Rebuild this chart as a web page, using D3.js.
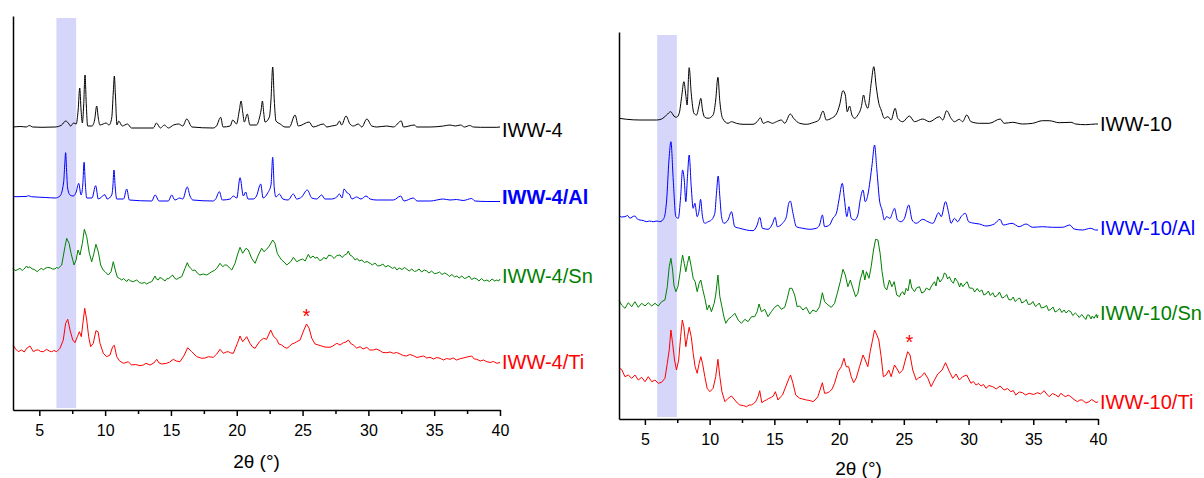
<!DOCTYPE html>
<html><head><meta charset="utf-8">
<script src="https://cdn.jsdelivr.net/npm/d3@7"></script>
<style>
body{margin:0;background:#fff}
svg{display:block}
text{font-family:"Liberation Sans",Arial,Helvetica,sans-serif}
</style>
</head><body>
<svg id="chart" width="1204" height="478"></svg>
<script>
// ---------- DATA ----------
const majorTicks = [5,10,15,20,25,30,35,40];
const minorTicks = [7.5,12.5,17.5,22.5,27.5,32.5,37.5];
const xDomain = [3,40];
const axisTitle = "2θ (°)";

const leftLabels  = ["IWW-4","IWW-4/Al","IWW-4/Sn","IWW-4/Ti"];
const rightLabels = ["IWW-10","IWW-10/Al","IWW-10/Sn","IWW-10/Ti"];
const leftLabelLevels  = [273,206,127,41];
const rightLabelLevels = [288,184,99,10];
const leftBand  = [6.3,7.8];
const rightBand = [5.95,7.47];
const leftStar  = [25.3,98];
const rightStar = [25.44,81];

const iww4 = [[3.0,283],[3.6,283.5],[4.0,283],[4.24,284.5],[4.5,283],[5.2,282.7],[6.2,283],[6.7,285],[7.0,289],[7.2,287],[7.38,284],[7.6,287],[7.8,286],[7.95,300],[8.07,322],[8.17,300],[8.27,287],[8.37,305],[8.47,335],[8.57,305],[8.67,284],[9.0,284],[9.2,290],[9.36,304],[9.48,292],[9.6,285],[9.85,286],[10.07,287],[10.3,285],[10.5,292],[10.62,318],[10.7,334],[10.78,315],[10.9,285],[11.03,289],[11.3,284],[11.7,286],[12.0,282],[13.66,282],[13.9,287],[14.2,282],[14.5,285],[14.8,282],[15.2,285],[15.6,286],[15.9,284],[16.2,291],[16.6,283],[18.2,282],[18.46,284],[18.78,292.7],[18.96,283],[19.5,284],[19.7,290],[19.98,286],[20.2,300],[20.33,309],[20.45,298],[20.58,288],[20.8,296],[21.0,285],[21.5,285],[21.72,292],[21.85,300],[21.95,309],[22.05,297],[22.15,288],[22.48,293],[22.6,310],[22.73,343],[22.85,310],[22.98,289],[23.3,286],[23.67,283],[24.0,283],[24.43,295],[24.68,284],[25.5,288],[25.8,283],[26.58,286],[26.84,283],[27.2,284],[27.6,285],[27.8,289],[27.97,285],[28.3,294],[28.6,286],[28.86,284],[29.24,286],[29.5,283],[29.88,291],[30.26,284],[30.64,283],[31.4,284],[31.9,283],[32.5,289],[32.66,283],[33.5,285],[33.68,283],[34.7,283],[35.7,284],[36.2,285],[36.6,284],[37.0,285],[37.3,283],[37.7,284.5],[37.98,283],[38.5,282.7],[39.76,282.7],[40,283]];

const iww4Al = [[3.0,213.3],[4.0,213.5],[4.16,214.3],[4.4,213.3],[5.5,212.5],[6.2,212],[6.57,214],[6.85,228],[6.93,245],[7.0,257.3],[7.07,240],[7.15,222],[7.33,215],[7.58,214],[7.8,218],[7.99,226.7],[8.17,215],[8.3,225],[8.4,247.7],[8.5,225],[8.6,212],[9.0,212],[9.28,224.3],[9.48,211],[9.99,215.3],[10.15,211],[10.5,215],[10.58,222],[10.67,240],[10.77,222],[10.88,211],[11.4,211],[11.64,221],[11.84,210],[13.54,209],[13.8,215],[14.1,209],[14.8,209],[15.06,215],[15.3,210],[15.67,212],[15.9,211],[16.24,223],[16.45,214],[16.66,210],[18.2,209],[18.4,211],[18.68,218.3],[18.9,210],[19.5,211],[19.74,214],[20.0,212],[20.25,232.3],[20.5,214],[20.68,218],[20.85,211],[21.25,211],[21.5,214],[21.82,226],[22.0,212],[22.35,217],[22.6,225],[22.73,252.7],[22.85,222],[22.98,213],[23.24,216],[23.5,211],[23.9,210],[24.3,216],[24.55,211],[24.93,213],[25.36,220],[25.7,212],[26.07,211],[26.45,215],[26.7,211],[27.2,211],[27.6,213],[27.8,216],[28.0,212],[28.15,221],[28.4,217],[28.55,216],[28.75,211],[29.1,213],[29.44,211],[29.82,214],[30.13,211],[30.6,210],[31.9,210],[32.46,214],[32.7,209],[33.42,212],[33.7,209],[34.7,209],[35.7,211],[36.2,210],[36.7,210.5],[37.2,209.5],[37.85,211.5],[38.1,209],[39.0,208.5],[40,208.5]];

const iww4Sn = [[3.0,141.7],[3.15,139.5],[3.3,140],[3.53,141.7],[3.7,139.5],[3.8,140.5],[4.04,144],[4.15,142],[4.29,143.3],[4.45,141],[4.6,140.7],[4.85,138.3],[5.0,140.5],[5.18,141.7],[5.3,140],[5.43,141.5],[5.6,142.5],[5.81,142.3],[6.0,141],[6.19,141],[6.3,142.5],[6.44,141.7],[6.7,145],[6.95,163.3],[7.08,171.7],[7.26,166.7],[7.41,156.7],[7.64,145],[7.79,150],[7.94,160],[8.09,155],[8.27,166.7],[8.42,180.7],[8.6,173.3],[8.8,156.7],[8.98,148.3],[9.15,156.7],[9.3,165.7],[9.48,158.3],[9.66,145],[9.85,140],[9.99,138.3],[10.24,135],[10.45,138.3],[10.62,148.3],[10.77,140],[10.93,132.7],[11.1,131.5],[11.26,130],[11.4,131.5],[11.51,130],[11.65,128.5],[11.76,130.7],[11.95,129],[12.14,128.3],[12.4,130],[12.6,127.5],[12.78,126.7],[13.0,127.5],[13.16,126],[13.35,127.5],[13.54,128.3],[13.79,134],[13.9,131],[14.04,130],[14.15,132.5],[14.3,131.7],[14.55,129],[14.7,131.5],[14.8,131],[14.95,133],[15.13,135],[15.3,131.5],[15.44,130.7],[15.6,132],[15.82,133.3],[16.07,141.7],[16.24,147.3],[16.35,144],[16.5,141.7],[16.65,139.5],[16.83,140],[17.0,137],[17.2,135],[17.45,136],[17.72,135],[17.9,136.5],[18.1,138.3],[18.3,139.5],[18.48,141.7],[18.73,146.7],[18.93,143.3],[19.08,145],[19.24,145],[19.45,142],[19.62,140],[19.87,146.7],[20.05,155],[20.25,162.7],[20.45,156.7],[20.7,161.7],[20.88,160],[21.13,151.7],[21.39,146.7],[21.64,155],[21.89,161.7],[22.07,158.3],[22.27,160.7],[22.47,164],[22.73,170],[22.9,166.7],[23.08,156.7],[23.25,153],[23.41,150],[23.6,148],[23.8,145],[24.1,148.3],[24.3,152.7],[24.55,148.3],[24.8,150],[25.0,151],[25.2,149],[25.44,155.7],[25.6,152],[25.8,154],[25.95,151.7],[26.1,153],[26.3,149.5],[26.45,150],[26.6,152.5],[26.8,151],[27.0,155],[27.21,154],[27.4,151.5],[27.6,154.5],[27.85,155],[28.0,152.5],[28.2,155],[28.35,156],[28.48,159],[28.6,155],[28.8,153.5],[28.99,150],[29.15,151.5],[29.3,149],[29.5,150],[29.7,147.5],[29.9,148.5],[30.13,146.7],[30.3,145],[30.5,147],[30.7,144],[30.89,144.3],[31.1,146],[31.3,143],[31.5,144.5],[31.65,143.3],[31.85,141.5],[32.0,143],[32.16,140],[32.35,142],[32.55,140.5],[32.75,142.5],[32.9,141],[33.1,139],[33.3,141],[33.5,138.5],[33.68,139.3],[33.85,141],[34.05,138],[34.25,140],[34.44,139],[34.6,137],[34.8,139],[35.0,136.5],[35.2,136.7],[35.4,138],[35.6,135.5],[35.8,137],[35.96,136],[36.15,133.5],[36.35,135.5],[36.55,133],[36.72,134],[36.9,132],[37.1,134],[37.3,131.5],[37.48,132.3],[37.65,134],[37.85,130.5],[38.05,132],[38.24,131],[38.4,129],[38.6,131.5],[38.8,129],[39.0,130],[39.2,128.5],[39.4,131],[39.6,129],[39.76,130],[39.9,129],[40,131]];

const iww4Ti = [[3.0,65],[3.2,61],[3.4,58.3],[3.66,60],[3.85,58],[4.04,61.7],[4.29,64],[4.55,58.3],[4.75,60],[4.93,60],[5.1,58.5],[5.3,58.3],[5.56,60.7],[5.75,59],[5.94,58.3],[6.1,59.5],[6.32,58.3],[6.57,61.7],[6.82,70],[7.0,86.7],[7.16,90.7],[7.33,80],[7.54,70],[7.71,67.3],[7.89,73.3],[8.04,78.3],[8.19,73.3],[8.34,90],[8.45,101.7],[8.6,90],[8.75,73.3],[8.9,63.3],[9.1,66.7],[9.3,79.3],[9.46,78.3],[9.61,66.7],[9.86,56.7],[10.12,53.3],[10.37,55],[10.57,63.3],[10.7,64.7],[10.88,53.3],[11.08,49.3],[11.38,46.7],[11.6,47.5],[11.76,48.3],[12.0,45],[12.3,45.5],[12.65,44.3],[12.9,45],[13.1,46.7],[13.41,45],[13.7,47],[13.92,50.7],[14.1,47],[14.3,46],[14.68,46.7],[14.9,48],[15.18,50.7],[15.4,49],[15.69,48.3],[16.02,55],[16.27,62.3],[16.58,58.3],[16.96,53.3],[17.34,51.7],[17.6,52],[17.84,53.3],[18.22,52.7],[18.48,56],[18.73,60.7],[18.98,56.7],[19.2,58],[19.36,58.3],[19.55,57],[19.74,56.7],[20.05,66.7],[20.25,74],[20.45,68.3],[20.76,73.3],[21.0,66.7],[21.2,63],[21.39,61.7],[21.72,68.3],[22.02,71.7],[22.27,70.7],[22.58,80],[22.78,74],[23.03,70.7],[23.2,66],[23.41,65],[23.6,63],[23.8,61.7],[24.0,63.5],[24.18,66],[24.4,67],[24.56,68.3],[24.81,70],[25.1,80],[25.3,86],[25.5,81.7],[25.7,71.7],[25.95,66],[26.2,65],[26.45,64],[26.7,63],[27.09,62.7],[27.3,64],[27.6,66.7],[27.85,65],[28.1,67.3],[28.3,68],[28.48,70],[28.7,66],[28.86,65],[29.1,62],[29.37,63.3],[29.6,61],[29.88,62.7],[30.1,60],[30.38,60],[30.6,61],[30.89,59.3],[31.1,57.5],[31.4,57.3],[31.65,58],[31.9,56.7],[32.15,57.5],[32.41,56],[32.65,54.5],[32.9,54],[33.15,55.5],[33.42,54.3],[33.7,52.5],[33.93,53.3],[34.2,54],[34.44,52],[34.69,52.7],[34.95,51],[35.2,52.5],[35.45,51.7],[35.7,50],[35.95,51.5],[36.2,50.7],[36.45,52],[36.7,50],[36.97,51.3],[37.2,52],[37.5,53],[37.85,54],[38.05,51],[38.24,50.7],[38.5,49],[38.75,50],[39.0,48.3],[39.25,47.5],[39.5,48.5],[39.76,46.7],[40,47.5]];

const iww10 = [[3.0,300.7],[3.6,299.7],[4.62,299],[5.91,299],[6.29,300],[6.68,304],[6.99,307.3],[7.24,303],[7.44,301.7],[7.65,305.7],[7.84,322.3],[8.01,337.3],[8.16,324],[8.26,314],[8.42,351.3],[8.58,325.7],[8.79,305.7],[8.99,304],[9.19,314],[9.32,320.7],[9.45,309],[9.63,301.7],[9.89,300.7],[10.27,304],[10.47,319],[10.64,341.7],[10.79,317.3],[11.0,300.7],[11.42,295.7],[11.69,297.3],[12.07,295.7],[12.58,294.7],[13.35,294.7],[13.67,297.3],[13.93,301.3],[14.13,295.7],[14.51,297.3],[14.85,295.7],[15.16,297.3],[15.54,299],[15.8,295.7],[16.23,305],[16.49,300.7],[16.96,295.7],[17.47,294.7],[17.98,296.3],[18.44,299],[18.76,308],[19.01,299],[19.4,300.7],[19.79,305],[20.04,314],[20.3,328.3],[20.48,324],[20.63,307.3],[20.81,313],[20.99,304],[21.2,300.7],[21.45,304],[21.72,312.3],[21.89,324],[22.04,315.7],[22.22,310.7],[22.48,335.7],[22.68,352.3],[22.87,332.3],[23.07,315.7],[23.25,309],[23.5,300.7],[23.77,302.3],[24.02,299],[24.33,310.7],[24.53,300.7],[24.92,297.3],[25.43,303],[25.83,297.3],[26.46,300],[26.98,297.3],[27.75,302.3],[28.01,299],[28.31,308.3],[28.65,300.7],[28.91,297.3],[29.29,299.7],[29.54,297.3],[29.86,304],[30.19,297.3],[30.84,295.7],[31.6,295.7],[32.45,300],[32.75,295.7],[33.4,296.7],[34.17,295],[34.95,295.7],[35.71,298.3],[36.23,298.3],[37.0,296.3],[37.9,296.7],[38.28,295],[39.05,294.3],[39.81,295],[40,295]];

const iww10Al = [[3.0,204],[3.2,202],[3.46,202.3],[3.66,203.5],[3.85,200.7],[4.01,202],[4.23,203],[4.41,200],[4.62,199],[4.87,198.5],[5.13,197.3],[5.37,198],[5.65,197.3],[5.93,198],[6.16,197.3],[6.47,200.7],[6.68,219],[6.86,259],[7.01,277.3],[7.19,239],[7.39,202.3],[7.58,200.7],[7.76,222.3],[7.91,249],[8.04,239],[8.16,217.3],[8.29,242.3],[8.42,264],[8.58,232.3],[8.73,210.7],[8.86,215.7],[9.04,202.3],[9.19,209],[9.3,219.7],[9.45,202.3],[9.63,195.7],[9.89,197.3],[10.14,199],[10.4,205.7],[10.53,225.7],[10.66,243],[10.79,222.3],[10.92,202.3],[11.1,195.7],[11.42,199],[11.69,207.3],[11.94,192.3],[12.33,190.7],[12.85,189],[13.35,188.3],[13.67,194],[13.87,201.7],[14.08,190.7],[14.51,189.7],[14.85,195],[15.06,201.7],[15.23,192.3],[15.63,195.7],[15.93,202.3],[16.11,215.7],[16.23,218],[16.44,205.7],[16.7,192.3],[17.21,190.7],[17.73,189.7],[18.24,190.7],[18.49,194],[18.71,204],[18.88,192.3],[19.26,194],[19.52,200.7],[19.79,205.7],[19.99,219],[20.25,235.7],[20.42,219],[20.6,202.3],[20.76,212.3],[20.94,200.7],[21.2,199],[21.45,204],[21.63,219],[21.85,229],[22.02,217.3],[22.22,224],[22.4,239],[22.56,255.7],[22.74,274],[22.92,249],[23.12,219],[23.32,209],[23.5,199],[23.67,202.3],[23.94,200.7],[24.15,207.3],[24.28,210.7],[24.51,199],[24.8,197.3],[25.05,200.7],[25.38,214],[25.64,199],[25.96,195.7],[26.46,199.7],[26.86,197.3],[27.24,195.7],[27.7,206.3],[27.89,202.3],[28.22,217.3],[28.47,205.7],[28.65,195.7],[28.91,200.7],[29.16,197.3],[29.42,202.3],[29.75,205.7],[30.01,197.3],[30.45,195.7],[30.84,195],[31.35,193],[31.99,195],[32.43,199.7],[32.68,194],[33.36,195.7],[33.91,192.3],[34.44,195],[34.95,191.7],[35.71,192.3],[36.48,191.7],[37.26,191.7],[37.82,194],[38.15,190],[38.79,189],[39.44,190.7],[39.81,189],[40,189]];

const iww10Sn = [[3.0,119],[3.2,114],[3.46,110.7],[3.72,116.3],[3.98,112.3],[4.23,117.3],[4.49,111.7],[4.75,115.7],[5.01,113],[5.26,116.3],[5.53,113],[5.78,115.7],[6.03,113],[6.29,117.3],[6.55,119],[6.73,132.3],[6.88,152.3],[7.01,160.7],[7.14,149],[7.24,134],[7.39,127.3],[7.55,132.3],[7.71,145.7],[7.81,155.7],[7.91,164],[8.04,155.7],[8.16,147.3],[8.29,155.7],[8.42,163],[8.58,152.3],[8.73,140.7],[8.88,137.3],[9.04,127.3],[9.19,135.7],[9.32,139],[9.45,130.7],[9.63,120.7],[9.81,109],[9.97,114],[10.14,107.3],[10.35,115.7],[10.47,124],[10.64,144],[10.79,122.3],[10.95,112.3],[11.1,102.3],[11.25,95.7],[11.43,99.7],[11.69,102.3],[11.95,105.7],[12.2,99],[12.46,95.7],[12.72,99.7],[12.97,97.3],[13.23,102.3],[13.48,102.3],[13.67,107.3],[13.82,115],[14.0,107.3],[14.26,109.7],[14.51,102.3],[14.77,107.3],[15.02,111.7],[15.28,114],[15.54,109.7],[15.8,111.7],[16.0,120.7],[16.18,130.7],[16.36,130.7],[16.57,124],[16.76,112.3],[16.96,113],[17.21,109],[17.47,111.7],[17.73,105],[17.98,109],[18.24,107.3],[18.49,112.3],[18.71,126.3],[18.88,117.3],[19.15,114],[19.4,111.7],[19.65,115.7],[19.86,125.7],[20.09,137.3],[20.3,149.7],[20.48,144],[20.68,132.3],[20.87,139],[21.07,130.7],[21.28,122.3],[21.45,125.7],[21.63,139],[21.85,149],[21.99,139],[22.11,147.3],[22.31,140.7],[22.48,152.3],[22.66,169],[22.82,179.7],[23.0,179],[23.17,165.7],[23.32,147.3],[23.5,132.3],[23.68,129],[23.89,139],[24.08,132.3],[24.26,137.3],[24.45,124],[24.66,122.3],[24.8,126],[24.92,127.3],[25.05,124],[25.18,130.7],[25.32,128],[25.48,139.7],[25.62,131],[25.83,127.3],[25.98,131],[26.21,132.3],[26.38,126],[26.59,127.3],[26.74,131],[26.98,129],[27.14,133],[27.37,137.3],[27.49,133],[27.62,142.3],[27.8,137],[28.01,140.7],[28.13,146],[28.25,145],[28.38,140],[28.52,142.3],[28.67,138],[28.83,135.7],[28.96,141],[29.16,137.3],[29.31,132],[29.41,136],[29.57,132.3],[29.71,135],[29.89,137.3],[30.07,131],[30.33,130.7],[30.47,127],[30.67,130.5],[30.84,127.3],[31.03,129],[31.18,124],[31.35,125],[31.53,128],[31.68,123.5],[31.87,126.3],[32.04,122],[32.25,124],[32.39,127],[32.59,121],[32.75,121.7],[32.95,124.5],[33.1,119.5],[33.27,119],[33.45,122],[33.6,117.5],[33.78,119.7],[33.96,121],[34.11,116],[34.3,117.3],[34.46,119.5],[34.61,114.5],[34.82,115],[34.97,117.5],[35.17,112.5],[35.32,114],[35.47,116],[35.62,111],[35.83,111.7],[36.03,113.5],[36.18,108.5],[36.35,109.7],[36.53,112],[36.68,107],[36.87,108.3],[37.04,110.5],[37.21,106.5],[37.38,109],[37.54,106],[37.72,108.5],[37.9,107.3],[38.05,103.5],[38.25,106],[38.41,104],[38.55,101.5],[38.75,104.5],[38.92,101.7],[39.06,99.5],[39.18,104],[39.31,104],[39.46,100],[39.56,103],[39.69,100.7],[39.87,104.5],[39.95,101],[40,104]];

const iww10Ti = [[3.0,50.7],[3.2,49.7],[3.46,42.3],[3.72,44],[3.98,40.7],[4.23,44],[4.49,39],[4.75,41.7],[5.01,37.3],[5.26,42.3],[5.53,37.3],[5.78,39],[6.03,35.7],[6.29,36.7],[6.55,40.7],[6.73,55.7],[6.88,69],[7.01,89],[7.14,75.7],[7.29,59],[7.44,49],[7.61,59],[7.76,82.3],[7.89,99],[8.01,92.3],[8.16,72.3],[8.29,82.3],[8.42,91.7],[8.58,82.3],[8.73,65.7],[8.88,52.3],[9.04,45.7],[9.19,55.7],[9.32,62.3],[9.45,55.7],[9.63,42.3],[9.81,30.7],[10.02,27.3],[10.27,30.7],[10.47,42.3],[10.64,59.7],[10.79,42.3],[10.95,27.3],[11.18,17.3],[11.43,20.7],[11.69,23],[11.95,19],[12.14,16],[12.33,14],[12.6,13.5],[12.85,12.3],[13.05,14],[13.23,14],[13.4,15.5],[13.56,17.3],[13.74,22.3],[13.87,28.3],[14.03,16.3],[14.21,18],[14.38,19],[14.56,20.5],[14.77,21.7],[14.92,23],[15.08,27.3],[15.28,19],[15.47,22],[15.63,24],[15.93,34],[16.13,40.7],[16.25,44],[16.44,35.7],[16.65,24],[16.96,20.7],[17.19,20],[17.47,19],[17.75,18.5],[17.98,17.3],[18.15,19],[18.36,22.3],[18.71,36.3],[18.88,25.7],[19.06,26],[19.26,27.3],[19.46,30],[19.65,35.7],[19.91,47.3],[20.17,52.3],[20.38,60.7],[20.55,52.3],[20.74,52.3],[20.94,42.3],[21.12,36.3],[21.32,40.7],[21.58,52.3],[21.85,64],[22.02,59],[22.22,52.3],[22.4,67.3],[22.56,77.3],[22.74,89],[22.92,84],[23.07,79],[23.25,62.3],[23.42,42.3],[23.63,44],[23.84,49],[24.02,42.3],[24.28,54],[24.53,49],[24.66,45.7],[24.92,49],[25.12,59],[25.3,67.3],[25.48,64],[25.69,49],[25.96,39],[26.13,41],[26.34,42.3],[26.59,46.3],[26.86,40.7],[27.11,32.3],[27.37,39],[27.62,45],[27.96,49],[28.22,56.3],[28.37,52],[28.52,47.3],[28.78,40.7],[29.04,45],[29.29,39],[29.54,42.3],[29.86,44],[30.19,35.7],[30.37,37.5],[30.58,34],[30.78,35.5],[30.97,33],[31.16,34.5],[31.35,30.7],[31.58,33.5],[31.87,32.3],[32.14,30],[32.43,33],[32.59,31],[32.75,29],[33.0,30.5],[33.27,27.3],[33.45,28.5],[33.65,24],[33.91,27],[34.17,26.3],[34.41,24],[34.68,25.7],[35.02,24.5],[35.33,26.3],[35.57,25],[35.84,28.3],[36.03,25],[36.23,22.3],[36.48,25.5],[36.74,24],[36.94,22],[37.13,25.7],[37.34,23.5],[37.51,22.3],[37.69,24],[37.9,22.3],[38.15,19.5],[38.41,17.3],[38.6,19],[38.79,19],[39.06,16],[39.31,17.3],[39.51,19.5],[39.69,18],[39.85,16.5],[40,17.3]];

const seriesColors = ["#000000","#0000ff","#008000","#ff0000"];
const leftSeries  = [iww4, iww4Al, iww4Sn, iww4Ti];
const rightSeries = [iww10, iww10Al, iww10Sn, iww10Ti];

// ---------- LAYOUT ----------
const panels = [
  {series:leftSeries, labels:leftLabels, levels:leftLabelLevels, band:leftBand, star:leftStar,
   x0:13, x1:500, yTop:16, yBot:410, yMax:394, bandV:[2,392], boldIdx:1, titleDy:58},
  {series:rightSeries, labels:rightLabels, levels:rightLabelLevels, band:rightBand, star:rightStar,
   x0:619, x1:1098, yTop:32, yBot:419, yMax:387, bandV:[2,384], boldIdx:-1, titleDy:56}
];

const svg = d3.select("#chart");

panels.forEach(p => {
  const x = d3.scaleLinear().domain(xDomain).range([p.x0, p.x1]);
  const y = d3.scaleLinear().domain([0, p.yMax]).range([p.yBot, p.yTop]);
  const g = svg.append("g");

  g.append("rect")
    .attr("x", x(p.band[0])).attr("width", x(p.band[1]) - x(p.band[0]))
    .attr("y", y(p.bandV[1])).attr("height", y(p.bandV[0]) - y(p.bandV[1]))
    .attr("fill", "#d6d6fa");

  p.series.forEach((d, i) => {
    const line = d3.line().x(v => x(v[0])).y(v => y(v[1]))
      .curve(i < 2 ? d3.curveMonotoneX : d3.curveLinear);
    g.append("path").datum(d).attr("d", line)
      .attr("fill", "none").attr("stroke", seriesColors[i])
      .attr("stroke-width", 1).attr("stroke-linejoin", "round");
  });

  p.labels.forEach((t, i) => {
    g.append("text").attr("x", x(40) + 2).attr("y", y(p.levels[i]))
      .attr("fill", seriesColors[i]).attr("font-size", 20)
      .attr("font-weight", i === p.boldIdx ? "bold" : "normal")
      .text(t);
  });

  g.append("text").attr("x", x(p.star[0])).attr("y", y(p.star[1]) + 11)
    .attr("text-anchor", "middle").attr("fill", "#ff0000").attr("font-size", 20).text("*");

  const ax = g.append("g").attr("transform", `translate(0,${p.yBot})`)
    .call(d3.axisBottom(x).tickValues(majorTicks).tickSize(6).tickPadding(9).tickSizeOuter(0));
  ax.selectAll("text").attr("font-size", 16).attr("fill", "#000")
    .style("font-family", '"Liberation Sans",Arial,sans-serif');
  const axm = g.append("g").attr("transform", `translate(0,${p.yBot})`)
    .call(d3.axisBottom(x).tickValues(minorTicks).tickSize(4).tickFormat("").tickSizeOuter(0));
  axm.select(".domain").remove();
  g.selectAll(".tick line").attr("stroke-width", 1.5).attr("stroke", "#000");
  ax.select(".domain").attr("stroke-width", 1.5).attr("stroke", "#000");

  const ay = g.append("g").attr("transform", `translate(${p.x0},0)`)
    .call(d3.axisLeft(y).tickValues([]).tickSizeOuter(0));
  ay.select(".domain").attr("stroke-width", 1.5).attr("stroke", "#000");

  g.append("text").attr("x", (p.x0 + p.x1) / 2).attr("y", p.yBot + p.titleDy)
    .attr("text-anchor", "middle").attr("font-size", 19).attr("fill", "#000").text(axisTitle);
});
</script>
</body></html>
